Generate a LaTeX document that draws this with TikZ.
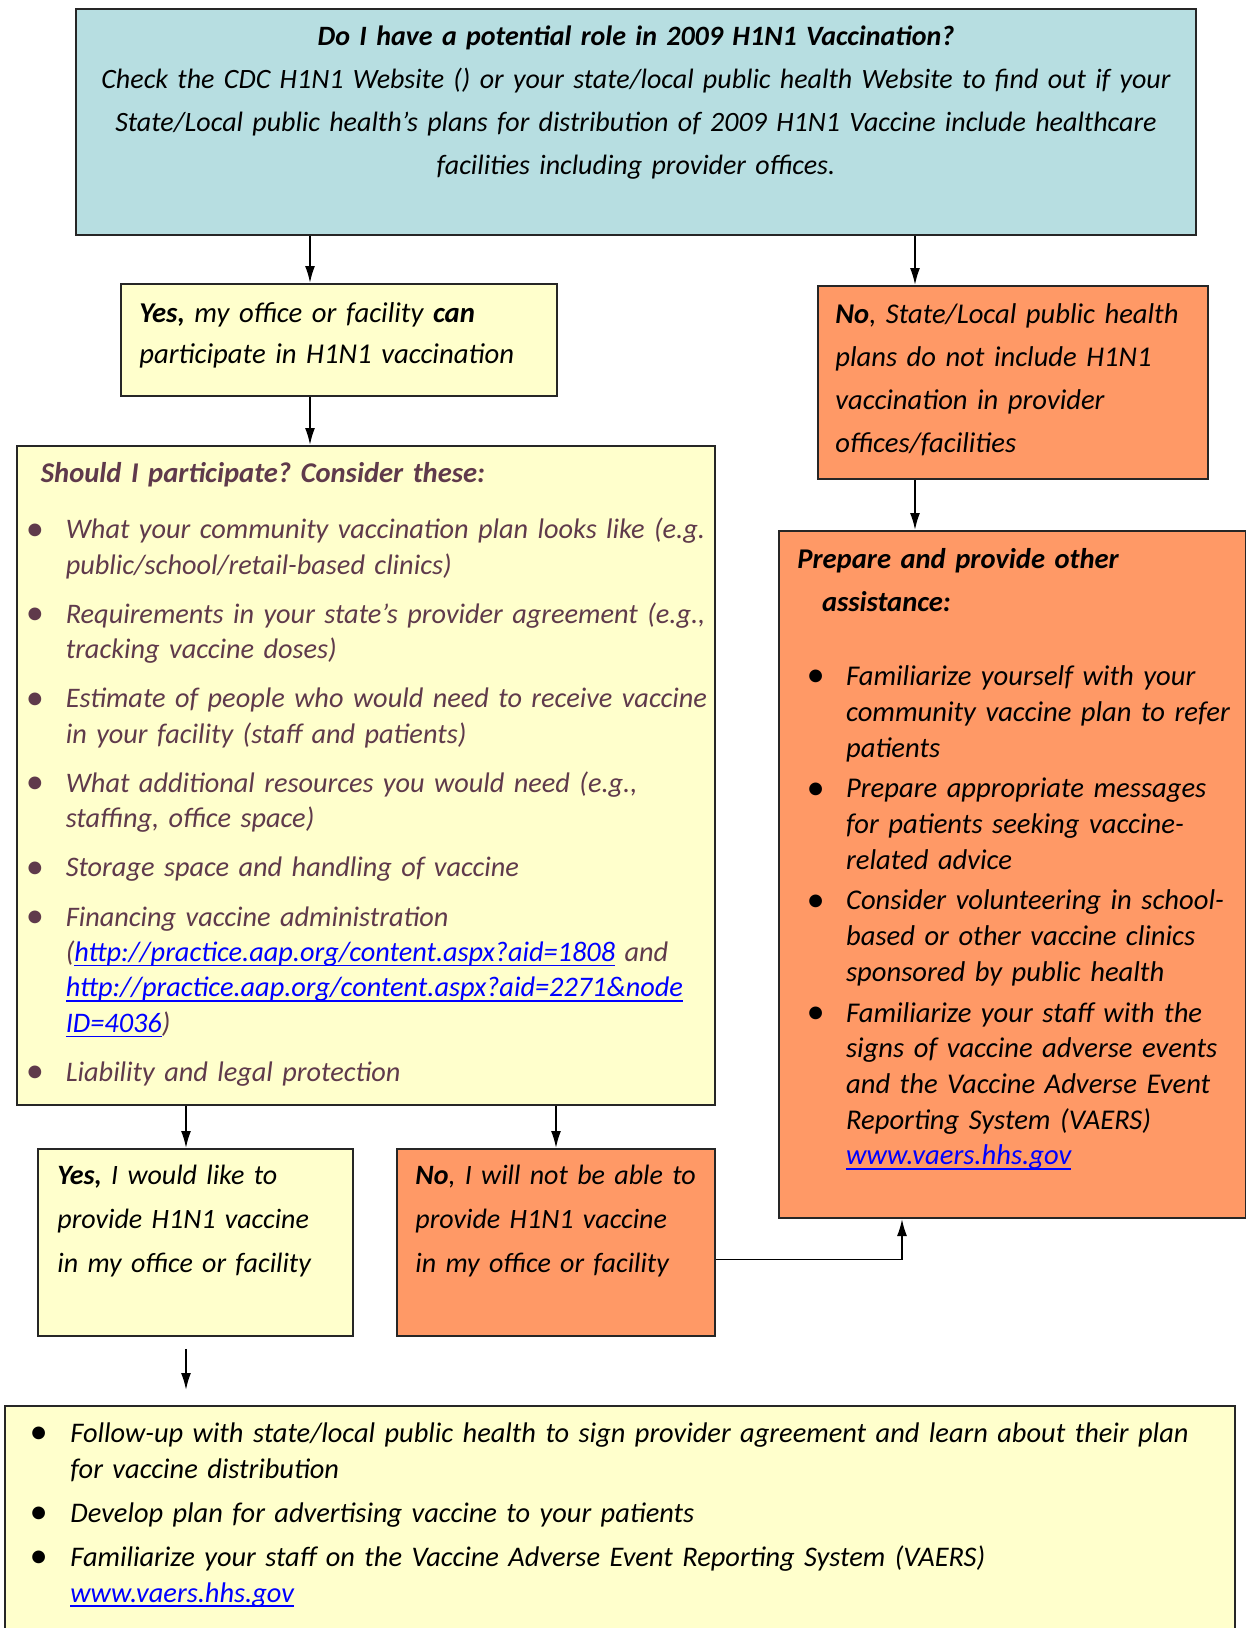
\documentclass[tikz,border=0pt]{standalone}
\usepackage{fontspec}
\setmainfont{Carlito}
\usepackage{enumitem}
\usetikzlibrary{arrows.meta}
\frenchspacing

\definecolor{roleblue}{HTML}{B7DEE1}
\definecolor{paleyellow}{HTML}{FFFFCC}
\definecolor{peach}{HTML}{FF9966}
\definecolor{plum}{HTML}{5F3A4B}
\definecolor{linkblue}{HTML}{0000FF}

\newcommand{\weblink}[1]{\leavevmode{\color{linkblue}\setbox0\hbox{#1}\rlap{\rule[-2.4pt]{\wd0}{0.7pt}}\box0}}
\newcommand{\dotlabel}{\makebox[0pt]{\fontsize{18}{18}\selectfont\raisebox{-0.6pt}{\textbullet}}}

\begin{document}
\begin{tikzpicture}[x=0.5pt,y=-0.5pt,
    box/.style={draw=black!85,line width=1pt,inner sep=0pt,anchor=north west},
    txt/.style={inner sep=0pt,anchor=base west,align=left,text width=#1,
      font=\itshape\fontsize{14.3}{21.6}\selectfont},
    txt/.default=200pt,
    arr/.style={-{Latex[length=8.5pt,width=5pt]},line width=0.9pt}]
    \useasboundingbox (0,0) rectangle (1246,1628);

    % columns of the arrows
    \coordinate (leftcol) at (310,0);
    \coordinate (rightcol) at (915,0);
    \coordinate (yescol) at (186,0);
    \coordinate (nocol) at (556,0);
    \coordinate (prepcol) at (902,0);

    % boxes
    \node[box,fill=roleblue,minimum width=560pt,minimum height=113pt] (role) at (75,8) {};
    \node[box,fill=paleyellow,minimum width=218pt,minimum height=56pt] (yes) at (120,283) {};
    \node[box,fill=peach,minimum width=195pt,minimum height=96.5pt] (no) at (817,285) {};
    \node[box,fill=paleyellow,minimum width=349pt,minimum height=329.5pt] (consider) at (16,445) {};
    \node[box,fill=peach,minimum width=233.5pt,minimum height=343.5pt] (prep) at (778,530) {};
    \node[box,fill=paleyellow,minimum width=157.5pt,minimum height=93.5pt] (yestwo) at (37,1148) {};
    \node[box,fill=peach,minimum width=159pt,minimum height=93.5pt] (notwo) at (396,1148) {};
    \node[box,fill=paleyellow,minimum width=615pt,minimum height=118pt] (follow) at (4,1405) {};

    % texts
    \node[txt=552pt,anchor=base,align=center,font=\itshape\fontsize{14}{21.6}\selectfont] (roletext) at (636,45)
      {\textbf{Do I have a potential role in 2009 H1N1 Vaccination?}\\
       Check the CDC H1N1 Website () or your state/local public health Website to find out if your\\
       State/Local public health’s plans for distribution of 2009 H1N1 Vaccine include healthcare\\
       facilities including provider offices.};
    \node[txt,font=\itshape\fontsize{14.35}{20.7}\selectfont] (yestext) at (139,322)
      {\textbf{Yes,} my office or facility \textbf{can}\\participate in H1N1 vaccination};
    \node[txt=185pt] (notext) at (835,323)
      {\textbf{No}, State/Local public health\\plans do not include H1N1\\vaccination in provider\\offices/facilities};

    \node[txt=340pt,text=plum] (considerhead) at (40.5,482)
      {\textbf{Should I participate? Consider these:}};
    \node[txt=400pt,text=plum,font=\itshape\fontsize{14.15}{17.7}\selectfont] (considerlist) at (30,503.5)
      {\begin{itemize}[leftmargin=17.7pt,labelwidth=0pt,labelsep=15.6pt,itemsep=6.85pt,
          parsep=0pt,topsep=0pt,partopsep=0pt,label=\dotlabel]
       \item What your community vaccination plan looks like (e.g.\\public/school/retail-based clinics)
       \item Requirements in your state’s provider agreement (e.g.,\\tracking vaccine doses)
       \item Estimate of people who would need to receive vaccine\\in your facility (staff and patients)
       \item What additional resources you would need (e.g.,\\staffing, office space)
       \item Storage space and handling of vaccine
       \item Financing vaccine administration\\(\weblink{http://practice.aap.org/content.aspx?aid=1808} and\\
             \weblink{http://practice.aap.org/content.aspx?aid=2271\&node}\\\weblink{ID=4036})
       \item Liability and legal protection
       \end{itemize}};

    \node[txt=220pt,font=\itshape\fontsize{14.3}{21.65}\selectfont] (prephead) at (797,568)
      {\textbf{Prepare and provide other}\\\hspace*{12.3pt}\textbf{assistance:}};
    \node[txt=260pt,font=\itshape\fontsize{14.3}{17.85}\selectfont] (preplist) at (805,650)
      {\begin{itemize}[leftmargin=20.35pt,labelwidth=0pt,labelsep=15.35pt,itemsep=2.5pt,
          parsep=0pt,topsep=0pt,partopsep=0pt,label=\dotlabel]
       \item Familiarize yourself with your\\community vaccine plan to refer\\patients
       \item Prepare appropriate messages\\for patients seeking vaccine-\\related advice
       \item Consider volunteering in school-\\based or other vaccine clinics\\sponsored by public health
       \item Familiarize your staff with the\\signs of vaccine adverse events\\and the Vaccine Adverse Event\\
             Reporting System (VAERS)\\\weblink{www.vaers.hhs.gov}
       \end{itemize}};

    \node[txt=150pt,font=\itshape\fontsize{14}{22}\selectfont] (yestwotext) at (57,1184)
      {\textbf{Yes,} I would like to\\provide H1N1 vaccine\\in my office or facility};
    \node[txt=150pt,font=\itshape\fontsize{14}{22}\selectfont] (notwotext) at (415,1184)
      {\textbf{No}, I will not be able to\\provide H1N1 vaccine\\in my office or facility};

    \node[txt=620pt,font=\itshape\fontsize{14.2}{18}\selectfont] (followlist) at (28,1406)
      {\begin{itemize}[leftmargin=21pt,labelwidth=0pt,labelsep=16pt,itemsep=4pt,
          parsep=0pt,topsep=0pt,partopsep=0pt,label=\dotlabel]
       \item Follow-up with state/local public health to sign provider agreement and learn about their plan\\for vaccine distribution
       \item Develop plan for advertising vaccine to your patients
       \item Familiarize your staff on the Vaccine Adverse Event Reporting System (VAERS)\\\weblink{www.vaers.hhs.gov}
       \end{itemize}};

    % connectors
    \draw[arr] (role.south -| leftcol) -- (yes.north -| leftcol);
    \draw[arr] (role.south -| rightcol) -- (no.north -| rightcol);
    \draw[arr] (yes.south -| leftcol) -- (consider.north -| leftcol);
    \draw[arr] (no.south -| rightcol) -- (prep.north -| rightcol);
    \draw[arr] (consider.south -| yescol) -- (yestwo.north -| yescol);
    \draw[arr] (consider.south -| nocol) -- (notwo.north -| nocol);
    \draw[arr,shorten <=5.9pt,shorten >=7.5pt] (yestwo.south -| yescol) -- (follow.north -| yescol);
    \draw[arr] ([yshift=-8.5pt]notwo.east) -| (prep.south -| prepcol);
\end{tikzpicture}
\end{document}
